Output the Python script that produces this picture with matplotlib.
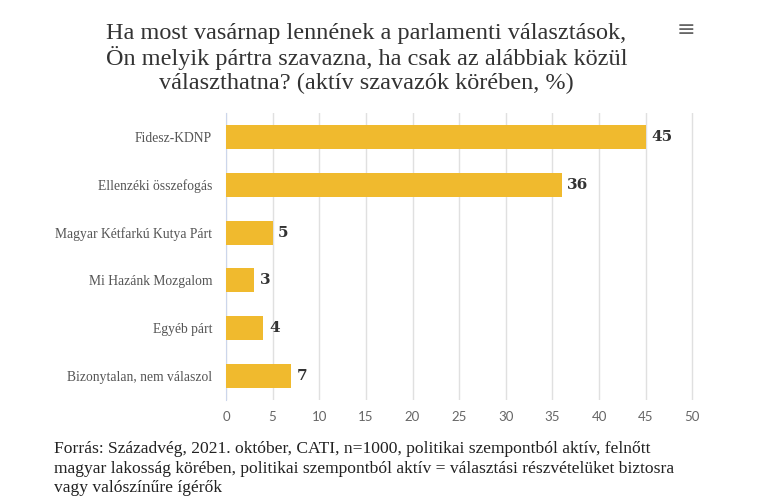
import numpy as np
import matplotlib.pyplot as plt

parties = ['Fidesz-KDNP', 'Ellenzéki összefogás', 'Magyar Kétfarkú Kutya Párt',
           'Mi Hazánk Mozgalom', 'Egyéb párt', 'Bizonytalan, nem válaszol']
values = [45, 36, 5, 3, 4, 7]
ticks = [0, 5, 10, 15, 20, 25, 30, 35, 40, 45, 50]

title = ('Ha most vasárnap lennének a parlamenti választások,\n'
         'Ön melyik pártra szavazna, ha csak az alábbiak közül\n'
         'választhatna? (aktív szavazók körében, %)')
source = ('Forrás: Századvég, 2021. október, CATI, n=1000, politikai szempontból aktív, felnőtt\n'
          'magyar lakosság körében, politikai szempontból aktív = választási részvételüket biztosra\n'
          'vagy valószínűre ígérők')

fig = plt.figure(figsize=(7.65, 5), dpi=100)
ax = fig.add_axes([0.2954, 0.2, 0.6157, 0.574])

y = np.arange(len(parties))
ax.barh(y, values, height=0.5, color='#F0BA2E', zorder=3)
for yi, v in zip(y, values):
    ax.text(v + 0.6, yi, str(v), va='center', ha='left', fontsize=11,
            fontweight='bold', color='#333333', family='DejaVu Serif')

ax.set_ylim(len(parties) - 0.5, -0.5)
ax.set_xlim(0, 50.5)
ax.set_xticks(ticks)
ax.set_xticklabels([str(t) for t in ticks], color='#666666', fontsize=9.5, family='Lato')
ax.set_yticks(y)
ax.set_yticklabels(parties, color='#555555', fontsize=9.8, family='Liberation Serif')
ax.tick_params(axis='both', length=0, pad=8)
ax.tick_params(axis='y', pad=10)
ax.grid(axis='x', color='#e0e0e0', linewidth=1, zorder=0)
for s in ['top', 'right', 'bottom']:
    ax.spines[s].set_visible(False)
ax.spines['left'].set_color('#ccd6eb')

fig.text(0.479, 0.955, title, ha='center', va='top', fontsize=17.5, color='#333333',
         family='Liberation Serif', linespacing=1.15)
fig.text(0.897, 0.94, '≡', ha='center', va='center', fontsize=16, color='#666666')
fig.text(0.071, 0.118, source, ha='left', va='top', fontsize=12.6, color='#222222',
         family='Liberation Serif', linespacing=1.3)

fig.savefig('out.png', dpi=100)
